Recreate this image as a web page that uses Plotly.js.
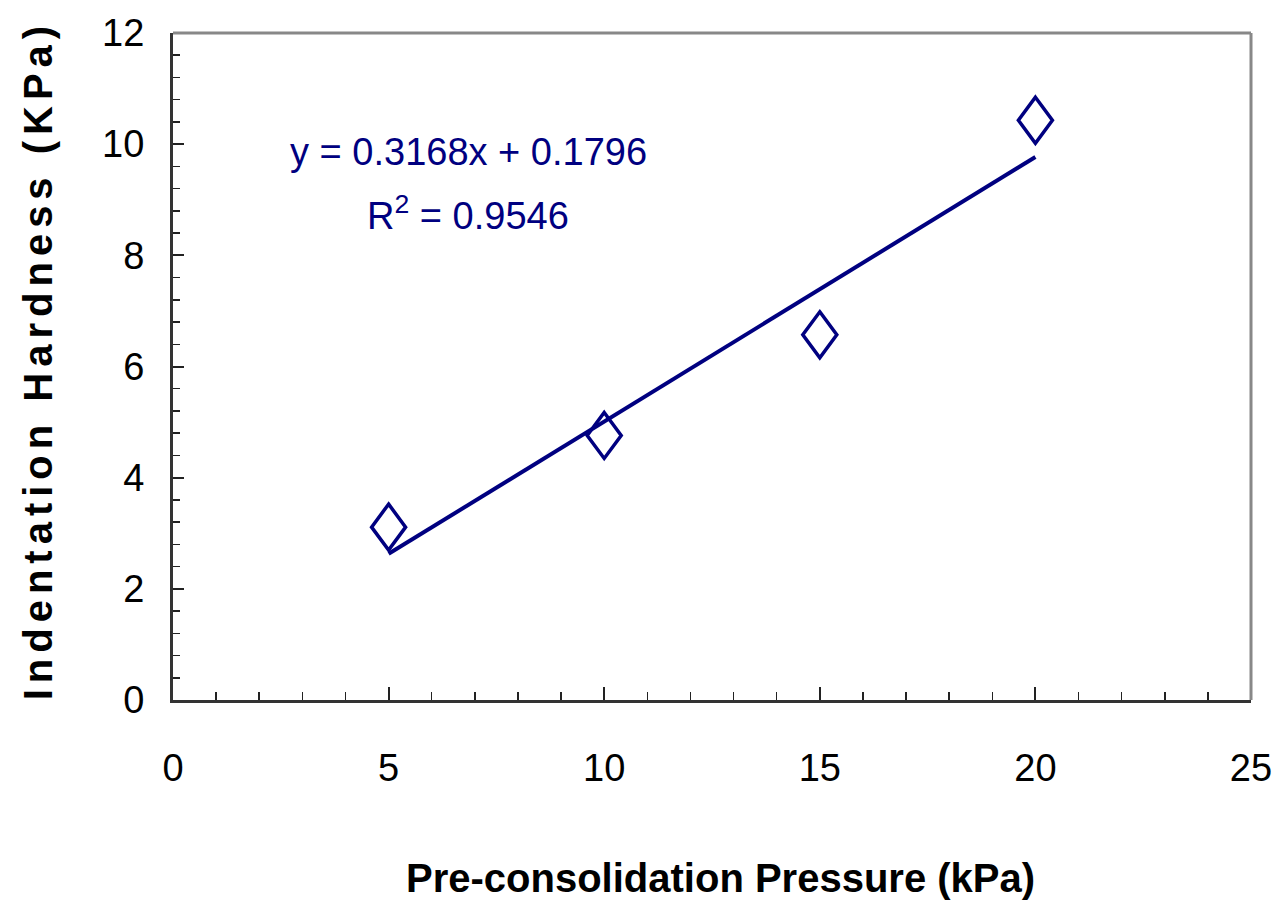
<!DOCTYPE html>
<html>
<head>
<meta charset="utf-8">
<script src="https://cdn.plot.ly/plotly-3.0.1.min.js"></script>
<style>
  html, body { margin: 0; padding: 0; background: #fff; }
  #chart { width: 1277px; height: 916px; }
</style>
</head>
<body>
<div id="chart"></div>
<script>
// ---- data ----
var pressure = [5, 10, 15, 20];                 // kPa
var hardness = [3.11, 4.76, 6.57, 10.43];       // KPa
var trendX = [5, 20];
var trendY = [2.63, 9.77];
var equationText = 'y = 0.3168x + 0.1796';
var r2Text = 'R<sup>2</sup> = 0.9546';
var xTitle = 'Pre-consolidation Pressure (kPa)';
var yTitle = 'Indentation Hardness (KPa)';

var navy = '#000080';
var fam = '"Liberation Sans", Arial, sans-serif';
var tickFont = { family: fam, size: 38, color: '#000' };

var traces = [
  {
    x: trendX, y: trendY, type: 'scatter', mode: 'lines',
    line: { color: navy, width: 4 }, hoverinfo: 'skip', showlegend: false
  },
  {
    x: pressure, y: hardness, type: 'scatter', mode: 'markers',
    marker: { symbol: 'diamond-open', size: 30, color: navy, line: { color: navy, width: 3.5 } },
    showlegend: false
  }
];

var layout = {
  width: 1277, height: 916,
  margin: { l: 173, r: 26, t: 33, b: 216 },
  paper_bgcolor: '#fff', plot_bgcolor: '#fff',
  showlegend: false,
  xaxis: {
    range: [0, 25], dtick: 5, tick0: 0,
    showgrid: false, zeroline: false,
    showline: true, linecolor: '#333', linewidth: 3,
    ticks: 'inside', ticklen: 13, tickwidth: 2, tickcolor: '#222',
    minor: { dtick: 1, ticks: 'inside', ticklen: 8, tickwidth: 1.5, tickcolor: '#222', showgrid: false },
    tickfont: tickFont, ticklabelstandoff: 32
  },
  yaxis: {
    range: [0, 12], dtick: 2, tick0: 0,
    showgrid: false, zeroline: false,
    showline: true, linecolor: '#333', linewidth: 3,
    ticks: 'inside', ticklen: 11, tickwidth: 2, tickcolor: '#222',
    minor: { dtick: 0.4, ticks: 'inside', ticklen: 7, tickwidth: 1.5, tickcolor: '#222', showgrid: false },
    tickfont: tickFont, ticklabelstandoff: 18
  },
  shapes: [
    { type: 'line', xref: 'paper', yref: 'paper', x0: 0, x1: 1, y0: 1, y1: 1, line: { color: '#888', width: 3 } },
    { type: 'line', xref: 'paper', yref: 'paper', x0: 1, x1: 1, y0: 0, y1: 1, line: { color: '#888', width: 3 } }
  ],
  annotations: [
    {
      text: equationText, xref: 'x', yref: 'y', x: 6.85, y: 9.86,
      showarrow: false, xanchor: 'center', yanchor: 'middle',
      font: { family: fam, size: 38, color: navy }
    },
    {
      text: r2Text, xref: 'x', yref: 'y', x: 6.85, y: 8.76,
      showarrow: false, xanchor: 'center', yanchor: 'middle',
      font: { family: fam, size: 38, color: navy }
    },
    {
      text: '<b>' + xTitle + '</b>', xref: 'paper', yref: 'paper', x: 0.508, y: -0.267,
      showarrow: false, xanchor: 'center', yanchor: 'middle',
      font: { family: fam, size: 40, color: '#000' }
    },
    {
      text: '<b>' + yTitle + '</b>', xref: 'paper', yref: 'paper', x: -0.1257, y: 0.51,
      showarrow: false, xanchor: 'center', yanchor: 'middle', textangle: -90,
      font: { family: fam, size: 40, color: '#000' }
    }
  ]
};

Plotly.newPlot('chart', traces, layout, { displayModeBar: false, staticPlot: true }).then(function () {
  // widen the y title letters like the reference
  var anns = document.querySelectorAll('.annotation-text');
  var yt = anns[anns.length - 1];
  if (yt) yt.style.letterSpacing = '6px';
  // make the open diamonds taller than wide, as in the reference
  var halfW = 17, halfH = 23;
  document.querySelectorAll('.scatterlayer .trace:last-child .points path').forEach(function (p) {
    p.setAttribute('d', 'M0,-' + halfH + 'L' + halfW + ',0L0,' + halfH + 'L-' + halfW + ',0Z');
  });
});
</script>
</body>
</html>
